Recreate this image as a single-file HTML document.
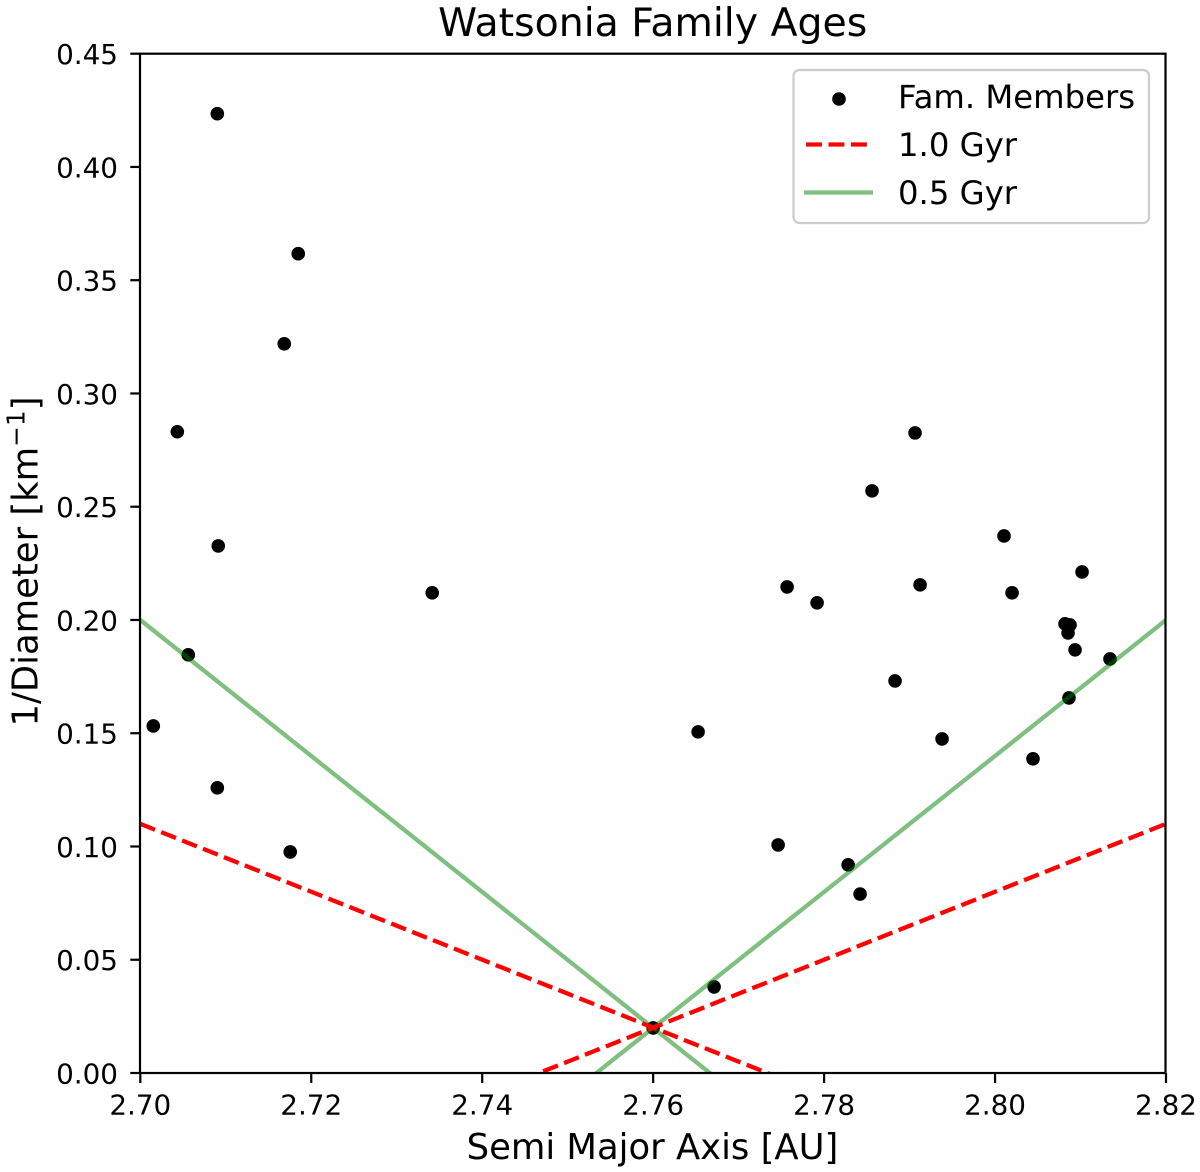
<!DOCTYPE html>
<html lang="en">
<head>
<meta charset="utf-8">
<title>Watsonia Family Ages</title>
<style>
html,body{margin:0;padding:0;background:#fff;}
#chart{display:block;width:1200px;height:1172px;font-family:"DejaVu Sans","Liberation Sans",sans-serif;fill:#000;}
</style>
</head>
<body>
<svg id="chart" xmlns="http://www.w3.org/2000/svg" width="1200" height="1172" viewBox="0 0 1200 1172">
  <defs>
    <clipPath id="plot-clip"><rect x="140" y="53.7" width="1025.5" height="1019.3"/></clipPath>
  </defs>
  <rect x="0" y="0" width="1200" height="1172" fill="#fff"/>
  <g id="points" clip-path="url(#plot-clip)"></g>
  <g id="lines" clip-path="url(#plot-clip)"></g>
  <g id="ticks"></g>
  <rect x="140" y="53.7" width="1025.5" height="1019.3" fill="none" stroke="#000" stroke-width="2.2"/>
  <text x="652.7" y="36" font-size="39.4" text-anchor="middle">Watsonia Family Ages</text>
  <text x="652.5" y="1159" font-size="35.4" text-anchor="middle">Semi Major Axis [AU]</text>
  <text transform="translate(37.5,561.5) rotate(-90)" font-size="35.4" text-anchor="middle">1/Diameter [km<tspan font-size="24.8" dy="-13">−1</tspan><tspan dy="13">]</tspan></text>
  <g>
    <rect x="793.5" y="70" width="355.5" height="153" rx="6" ry="6" fill="#fff" fill-opacity="0.8" stroke="#ccc" stroke-width="2.2"/>
    <circle cx="839" cy="99" r="6.8" fill="#000"/>
    <line x1="806" y1="144.5" x2="867" y2="144.5" stroke="#ff0000" stroke-width="4.3" stroke-dasharray="15.9 6.6"/>
    <line x1="804" y1="192.5" x2="873" y2="192.5" stroke="#008000" stroke-opacity="0.5" stroke-width="4.3"/>
    <text x="898" y="108" font-size="32.3">Fam. Members</text>
    <text x="898" y="156" font-size="32.3">1.0 Gyr</text>
    <text x="898" y="204" font-size="32.3">0.5 Gyr</text>
  </g>
</svg>
<script>
const memberA = [2.70901,2.71848,2.71684,2.70433,2.70912,2.73415,2.70561,2.70152,2.70901,2.71754,2.76526,2.77567,2.77918,2.79064,2.78561,2.79123,2.78830,2.79380,2.80105,2.80199,2.81018,2.80819,2.80877,2.80854,2.80936,2.81345,2.80865,2.80444,2.77462,2.78281,2.78421,2.76713,2.76];
const memberInvD = [0.4235,0.3617,0.3219,0.2831,0.2327,0.2120,0.1846,0.1532,0.1259,0.0976,0.1506,0.2146,0.2076,0.2826,0.2570,0.2155,0.1731,0.1475,0.2371,0.2120,0.2212,0.1983,0.1978,0.1943,0.1868,0.1828,0.1656,0.1387,0.1007,0.0919,0.0790,0.0380,0.0199];
const gyr05FallingA = [2.70,2.7733];
const gyr05FallingY = [0.20,-0.02];
const gyr05RisingA = [2.7467,2.82];
const gyr05RisingY = [-0.02,0.20];
const gyr10FallingA = [2.70,2.7867];
const gyr10FallingY = [0.11,-0.02];
const gyr10RisingA = [2.7349,2.82];
const gyr10RisingY = [-0.01765,0.11];
const xTicks = [2.70,2.72,2.74,2.76,2.78,2.80,2.82];
const xTickLabels = ["2.70","2.72","2.74","2.76","2.78","2.80","2.82"];
const yTicks = [0,0.05,0.10,0.15,0.20,0.25,0.30,0.35,0.40,0.45];
const yTickLabels = ["0.00","0.05","0.10","0.15","0.20","0.25","0.30","0.35","0.40","0.45"];

const NS = "http://www.w3.org/2000/svg";
const plotLeft = 140.3, plotRight = 1166, plotTop = 53.7, plotBottom = 1073;
const xMin = 2.70, xMax = 2.82, yMin = 0, yMax = 0.45;
function xScale(v){ return plotLeft + (v - xMin) / (xMax - xMin) * (plotRight - plotLeft); }
function yScale(v){ return plotBottom - (v - yMin) / (yMax - yMin) * (plotBottom - plotTop); }

const pointsLayer = document.getElementById("points");
memberA.forEach(function(a, i){
  const c = document.createElementNS(NS, "circle");
  c.setAttribute("cx", xScale(a));
  c.setAttribute("cy", yScale(memberInvD[i]));
  c.setAttribute("r", 6.8);
  c.setAttribute("fill", "#000");
  
  
  pointsLayer.appendChild(c);
});

const linesLayer = document.getElementById("lines");
function drawLine(xs, ys, color, opacity, dash, name){
  const l = document.createElementNS(NS, "line");
  l.setAttribute("x1", xScale(xs[0]));
  l.setAttribute("y1", yScale(ys[0]));
  l.setAttribute("x2", xScale(xs[1]));
  l.setAttribute("y2", yScale(ys[1]));
  l.setAttribute("stroke", color);
  l.setAttribute("stroke-opacity", opacity);
  l.setAttribute("stroke-width", 4.3);
  if (dash) l.setAttribute("stroke-dasharray", dash);
  
  
  linesLayer.appendChild(l);
}
drawLine(gyr05FallingA, gyr05FallingY, "#008000", 0.5, null, "age-line-0-5-gyr-falling");
drawLine(gyr05RisingA, gyr05RisingY, "#008000", 0.5, null, "age-line-0-5-gyr-rising");
drawLine(gyr10FallingA, gyr10FallingY, "#ff0000", 1, "15.9 6.6", "age-line-1-gyr-falling");
drawLine(gyr10RisingA, gyr10RisingY, "#ff0000", 1, "15.9 6.6", "age-line-1-gyr-rising");

const ticksLayer = document.getElementById("ticks");
xTicks.forEach(function(v, i){
  const px = xScale(v);
  const t = document.createElementNS(NS, "line");
  t.setAttribute("x1", px);
  t.setAttribute("x2", px);
  t.setAttribute("y1", plotBottom);
  t.setAttribute("y2", plotBottom + 10);
  t.setAttribute("stroke", "#000");
  t.setAttribute("stroke-width", 2.2);
  
  
  ticksLayer.appendChild(t);
  const s = document.createElementNS(NS, "text");
  s.setAttribute("x", px);
  s.setAttribute("y", 1114.7);
  s.setAttribute("font-size", 27.8);
  s.setAttribute("text-anchor", "middle");
  s.textContent = xTickLabels[i];
  
  
  ticksLayer.appendChild(s);
});
yTicks.forEach(function(v, i){
  const py = yScale(v);
  const t = document.createElementNS(NS, "line");
  t.setAttribute("x1", plotLeft - 10);
  t.setAttribute("x2", plotLeft);
  t.setAttribute("y1", py);
  t.setAttribute("y2", py);
  t.setAttribute("stroke", "#000");
  t.setAttribute("stroke-width", 2.2);
  
  
  ticksLayer.appendChild(t);
  const s = document.createElementNS(NS, "text");
  s.setAttribute("x", 118);
  s.setAttribute("y", py + 10.4);
  s.setAttribute("font-size", 27.8);
  s.setAttribute("text-anchor", "end");
  s.textContent = yTickLabels[i];
  
  
  ticksLayer.appendChild(s);
});
</script>
</body>
</html>
